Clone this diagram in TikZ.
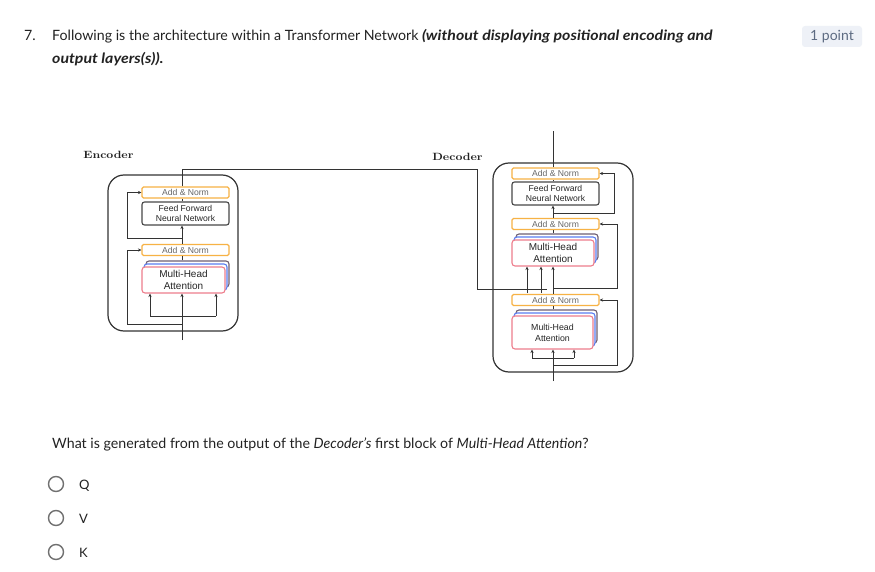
\documentclass[tikz,border=0pt]{standalone}
\usepackage{fontspec}
\setmainfont{Lato}
\newfontfamily\arial{Liberation Sans}
\newfontfamily\lmr{Latin Modern Roman}
\usetikzlibrary{arrows.meta}
\definecolor{orng}{HTML}{F7B245}
\definecolor{pnk}{HTML}{EE7D8C}
\definecolor{blu}{HTML}{5A7DF0}
\definecolor{bk}{HTML}{6E5E72}
\definecolor{ln}{HTML}{333333}
\definecolor{txt}{HTML}{222222}
\definecolor{ptbg}{HTML}{EEF1F7}
\definecolor{pttx}{HTML}{5D6B82}
\definecolor{radio}{HTML}{707070}
\tikzset{
  an/.style={draw=orng, line width=1.1pt, rounded corners=1.5pt, minimum width=87pt, minimum height=11pt, inner sep=0pt, font=\arial\fontsize{8.6}{9}\selectfont, text=black!60},
  ffbox/.style={draw=ln!90, line width=1.1pt, rounded corners=2.5pt, minimum width=87pt, minimum height=23pt, inner sep=0pt, align=center, font=\arial\fontsize{8.6}{10.5}\selectfont, text=black!85},
  mhafront/.style={draw=pnk, fill=white, line width=1.1pt, rounded corners=3pt, inner sep=0pt, align=center, font=\arial\fontsize{10}{12.5}\selectfont, text=black!85},
  mhablue/.style={draw=blu, fill=white, line width=1.1pt, rounded corners=3pt, inner sep=0pt},
  mhaback/.style={draw=bk, fill=white, line width=1.1pt, rounded corners=3pt, inner sep=0pt},
  outer/.style={draw=ln, line width=1.2pt, rounded corners=16pt},
  con/.style={draw=ln, line width=0.85pt},
  arr/.style={con, -{Stealth[length=3.5pt,width=3.2pt]}},
  ttl/.style={font=\lmr\bfseries\fontsize{10.5}{12}\selectfont, text=txt, inner sep=0pt},
  qtext/.style={font=\fontsize{14.2}{16}\selectfont, text=txt, inner sep=0pt, anchor=base west},
  radiobtn/.style={circle, draw=radio, line width=1.4pt, minimum size=15pt, inner sep=0pt},
}
\begin{document}
\begin{tikzpicture}[x=1pt,y=-1pt]
\useasboundingbox (0,0) rectangle (875,572);
\fill[white] (0,0) rectangle (875,572);

% ---------- header ----------
\node[qtext] (num) at (24,41) {7.};
\node[qtext] (title1) at (52,41) {Following is the architecture within a Transformer Network \scalebox{1.12}[1]{\textbf{\textit{(without displaying positional encoding and}}}};
\node[qtext] (title2) at (52,63.5) {\scalebox{1.12}[1]{\textbf{\textit{output layers(s)).}}}};
\node[fill=ptbg, rounded corners=3pt, minimum width=60pt, minimum height=21pt, inner sep=0pt, text=pttx, font=\fontsize{14}{16}\selectfont] (pts) at (832,36.5) {1 point};

% ---------- encoder ----------
\node[ttl] (enclbl) at (108.5,155) {\scalebox{1.15}[1]{Encoder}};
\draw[outer] (108,175) rectangle (238,331);
\node[an] (eAN1) at (185.5,192.5) {Add \& Norm};
\node[ffbox] (eFF) at (185.5,213.5) {Feed Forward\\Neural Network};
\node[an] (eAN2) at (185.5,250) {Add \& Norm};
\node[mhaback, minimum width=83pt, minimum height=26pt] (eMHAk) at (187.5,274) {};
\node[mhablue, minimum width=83pt, minimum height=26pt] (eMHAb) at (185.5,277) {};
\node[mhafront, minimum width=83pt, minimum height=26pt] (eMHA) at (183.5,280) {Multi-Head\\Attention};

\coordinate (ein) at (182,340);
\coordinate (eout) at (182,169);
\coordinate (eb1) at (477,169);
\coordinate (eb2) at (477,289);
\coordinate (ebranchL) at (150,316);
\coordinate (ebranchR) at (216,316);
\coordinate (eres1) at (182,324);
\coordinate (eres1x) at (127,324);
\coordinate (eres2) at (182,238);
\coordinate (eres2x) at (127,238);

\draw[arr] (ein) -- (ein |- eMHA.south);
\draw[con] (ebranchL) -- (ebranchR);
\draw[arr] (ebranchL) -- (ebranchL |- eMHA.south);
\draw[arr] (ebranchR) -- (ebranchR |- eMHA.south);
\draw[con] (ein |- eMHAk.north) -- (ein |- eAN2.south);
\draw[arr] (ein |- eAN2.north) -- (ein |- eFF.south);
\draw[con] (ein |- eFF.north) -- (ein |- eAN1.south);
\draw[con] (ein |- eAN1.north) -- (eout) -- (eb1) -- (eb2);
\draw[arr] (eres1) -- (eres1x) -- (eres1x |- eAN2.west) -- (eAN2.west);
\draw[arr] (eres2) -- (eres2x) -- (eres2x |- eAN1.west) -- (eAN1.west);

% ---------- decoder ----------
\node[ttl] (declbl) at (457.5,157) {\scalebox{1.15}[1]{Decoder}};
\draw[outer] (493,163) rectangle (633,372);
\node[an] (dAN1) at (555.5,173.5) {Add \& Norm};
\node[ffbox] (dFF) at (555.5,193.5) {Feed Forward\\Neural Network};
\node[an] (dAN2) at (555.5,224) {Add \& Norm};
\node[mhaback, minimum width=82pt, minimum height=26pt] (dMHA1k) at (557,247) {};
\node[mhablue, minimum width=82pt, minimum height=26pt] (dMHA1b) at (555,250) {};
\node[mhafront, minimum width=82pt, minimum height=26pt] (dMHA1) at (553,253) {Multi-Head\\Attention};
\node[an] (dAN3) at (555.5,300) {Add \& Norm};
\node[mhaback, minimum width=81pt, minimum height=33pt] (dMHA2k) at (556.5,326.5) {};
\node[mhablue, minimum width=81pt, minimum height=33pt] (dMHA2b) at (554.5,329.5) {};
\node[mhafront, minimum width=81pt, minimum height=33pt, font=\arial\fontsize{8.8}{11}\selectfont] (dMHA2) at (552.5,332.5) {Multi-Head\\Attention};

\coordinate (din) at (553,381);
\coordinate (dout) at (553,131);
\coordinate (dbranchL) at (532,358);
\coordinate (dbranchR) at (574,358);
\coordinate (dres1) at (553,365);
\coordinate (dres1x) at (617,365);
\coordinate (dres2) at (553,288);
\coordinate (dres2x) at (617,288);
\coordinate (dres3) at (553,213);
\coordinate (dres3x) at (614,213);
\coordinate (ekv) at (547,289);
\coordinate (kL) at (527,293);
\coordinate (kR) at (541,293);

\draw[arr] (din) -- (din |- dMHA2.south);
\draw[con] (dbranchL) -- (dbranchR);
\draw[arr] (dbranchL) -- (dbranchL |- dMHA2.south);
\draw[arr] (dbranchR) -- (dbranchR |- dMHA2.south);
\draw[con] (din |- dMHA2k.north) -- (din |- dAN3.south);
\draw[arr] (din |- dAN3.north) -- (din |- dMHA1.south);
\draw[con] (din |- dMHA1k.north) -- (din |- dAN2.south);
\draw[arr] (din |- dAN2.north) -- (din |- dFF.south);
\draw[con] (din |- dFF.north) -- (din |- dAN1.south);
\draw[con] (din |- dAN1.north) -- (dout);
\draw[arr] (dres1) -- (dres1x) -- (dres1x |- dAN3.east) -- (dAN3.east);
\draw[arr] (dres2) -- (dres2x) -- (dres2x |- dAN2.east) -- (dAN2.east);
\draw[arr] (dres3) -- (dres3x) -- (dres3x |- dAN1.east) -- (dAN1.east);
% encoder output into decoder
\draw[con] (eb2) -- (ekv);
\draw[arr] (kL) -- (kL |- dMHA1.south);
\draw[arr] (kR) -- (kR |- dMHA1.south);

% ---------- question ----------
\node[qtext] (q) at (52,448) {What is generated from the output of the \textit{Decoder's} first block of \textit{Multi-Head Attention}?};
\node[radiobtn] (rq) at (56,484) {};
\node[radiobtn] (rv) at (56,518) {};
\node[radiobtn] (rk) at (56,552) {};
\node[qtext, font=\fontsize{13}{15}\selectfont] (lq) at (79,489) {Q};
\node[qtext, font=\fontsize{13}{15}\selectfont] (lv) at (79,523) {V};
\node[qtext, font=\fontsize{13}{15}\selectfont] (lk) at (79,557) {K};
\end{tikzpicture}
\end{document}
